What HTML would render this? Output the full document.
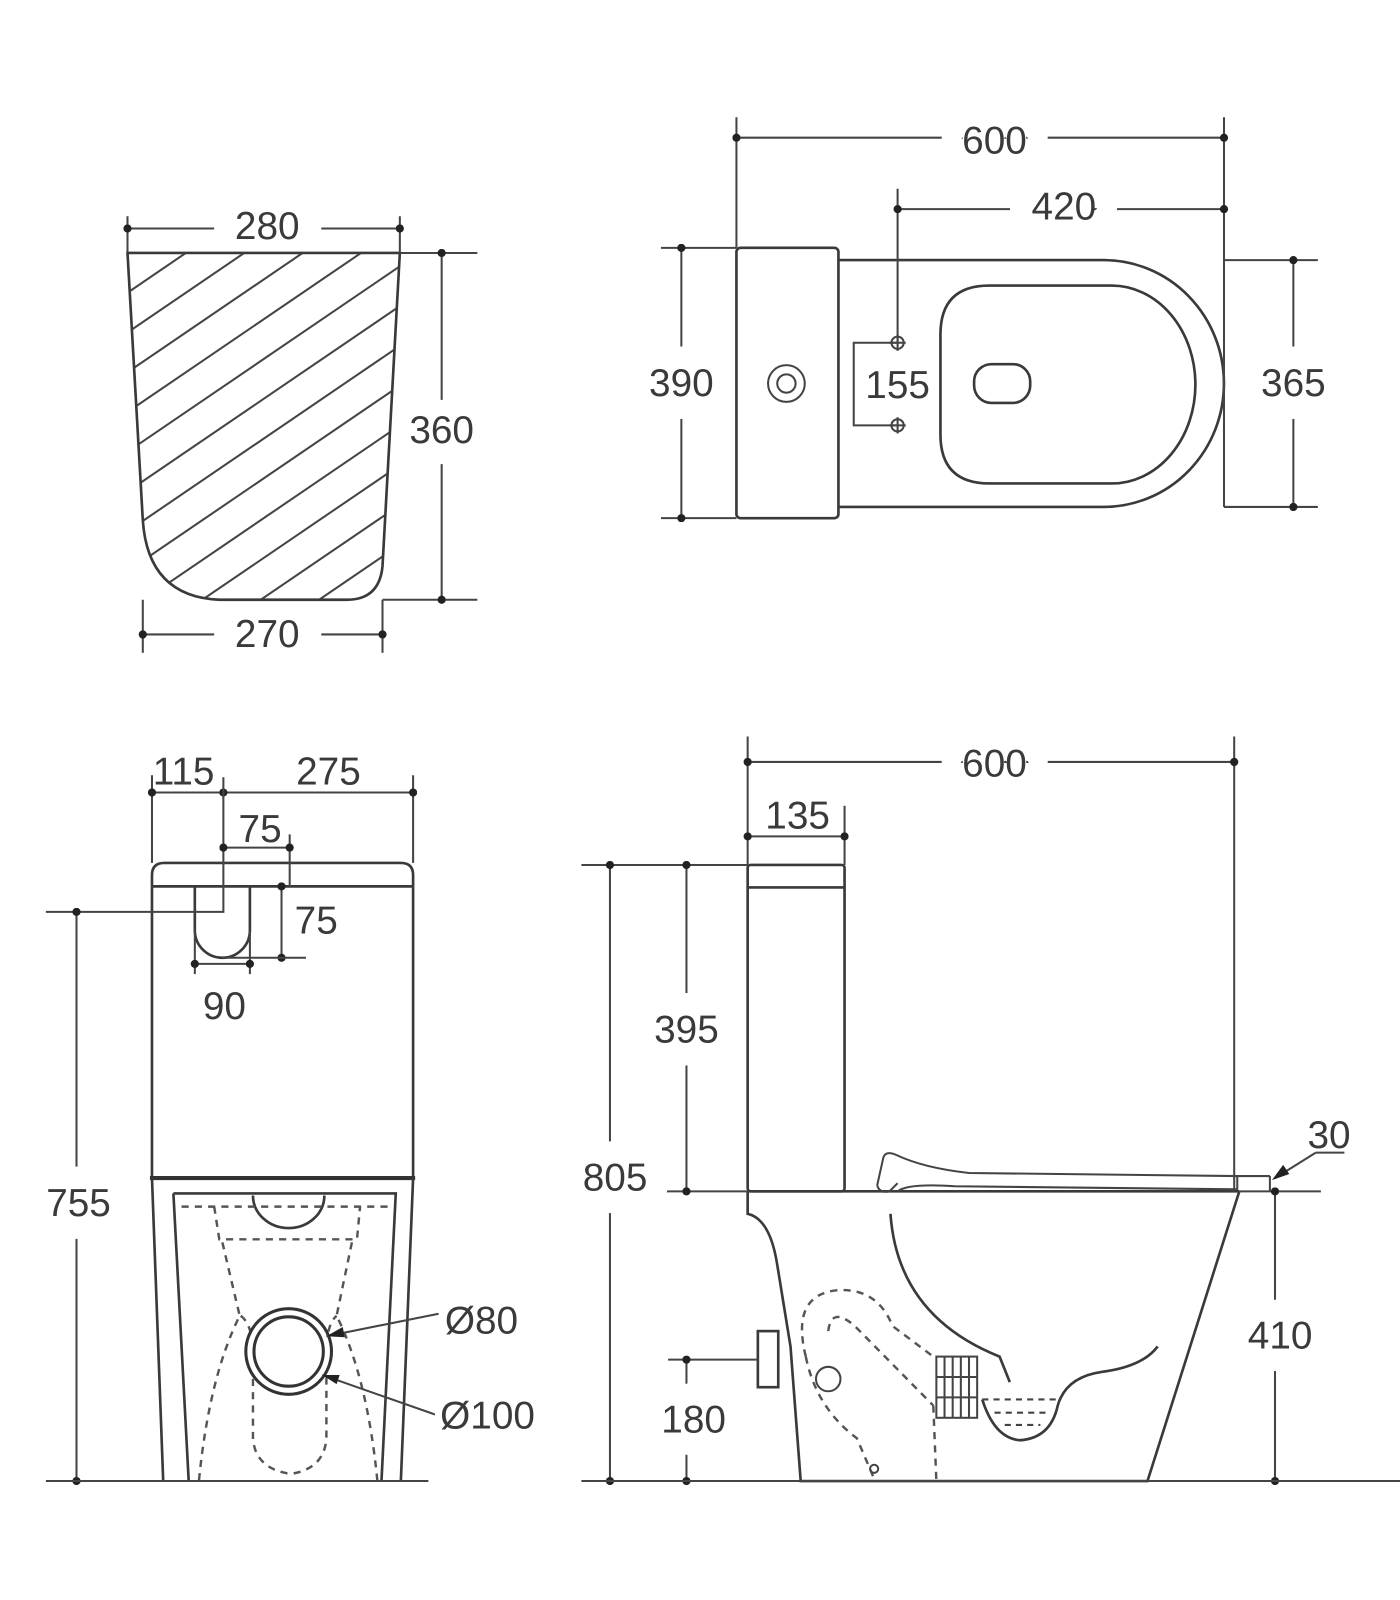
<!DOCTYPE html>
<html><head><meta charset="utf-8"><style>
html,body{margin:0;padding:0;background:#fff;}
svg{display:block}
text{font-family:"Liberation Sans",sans-serif;font-size:38px;fill:#3a3a3a;text-anchor:middle;dominant-baseline:central;paint-order:stroke;stroke:#fff;stroke-width:14px;stroke-linejoin:round}
text.w{stroke-width:44px}
text.n{stroke-width:0}
.l{stroke:#444;stroke-width:2;fill:none}
.t{stroke:#3a3a3a;stroke-width:2.6;fill:none}
.d{stroke:#555;stroke-width:2.4;fill:none;stroke-dasharray:7 6}
</style></head><body>
<svg width="1400" height="1600" viewBox="0 0 1400 1600" xmlns="http://www.w3.org/2000/svg">
<defs>
<clipPath id="c1"><path d="M125,248 L392,248 L375,555 Q372,588 340,588 L215,588 Q145,585 140,510 Z"/></clipPath>
<marker id="dt" viewBox="0 0 10 10" refX="5" refY="5" markerWidth="4" markerHeight="4"><circle cx="5" cy="5" r="5" fill="#222"/></marker>
</defs>
<rect width="1400" height="1600" fill="#fff"/>
<g transform="scale(1.02)">
<!-- TOP LEFT -->
<g clip-path="url(#c1)" class="l">
<line x1="100" y1="304" x2="420" y2="86"/><line x1="100" y1="343" x2="420" y2="125"/>
<line x1="100" y1="382" x2="420" y2="164"/><line x1="100" y1="421" x2="420" y2="203"/>
<line x1="100" y1="460" x2="420" y2="242"/><line x1="100" y1="499" x2="420" y2="281"/>
<line x1="100" y1="538" x2="420" y2="320"/><line x1="100" y1="577" x2="420" y2="359"/>
<line x1="100" y1="616" x2="420" y2="398"/><line x1="100" y1="655" x2="420" y2="437"/>
<line x1="100" y1="694" x2="420" y2="476"/><line x1="100" y1="733" x2="420" y2="515"/>
<line x1="100" y1="772" x2="420" y2="554"/><line x1="100" y1="811" x2="420" y2="593"/>
</g>
<path class="t" d="M125,248 L392,248 L375,555 Q372,588 340,588 L215,588 Q145,585 140,510 Z"/>
<g class="l">
<line x1="125" y1="212" x2="125" y2="248"/><line x1="392" y1="212" x2="392" y2="248"/>
<line x1="125" y1="224" x2="210" y2="224" marker-start="url(#dt)"/>
<line x1="315" y1="224" x2="392" y2="224" marker-end="url(#dt)"/>
<line x1="392" y1="248" x2="468" y2="248"/><line x1="375" y1="588" x2="468" y2="588"/>
<line x1="433" y1="248" x2="433" y2="392" marker-start="url(#dt)"/>
<line x1="433" y1="455" x2="433" y2="588" marker-end="url(#dt)"/>
<line x1="140" y1="588" x2="140" y2="640"/><line x1="375" y1="588" x2="375" y2="640"/>
<line x1="140" y1="622" x2="210" y2="622" marker-start="url(#dt)"/>
<line x1="315" y1="622" x2="375" y2="622" marker-end="url(#dt)"/>
</g>
<text class="n" x="262" y="222">280</text><text class="n" x="433" y="422">360</text><text class="n" x="262" y="622">270</text>

<!-- TOP RIGHT -->
<rect class="t" x="722" y="243" width="100" height="265" rx="4"/>
<path class="t" d="M822,255 L1082,255 A118,121 0 0 1 1082,497 L822,497"/>
<path class="t" d="M970,280 L1090,280 A82,97 0 0 1 1090,474 L970,474 Q922,474 922,426 L922,328 Q922,280 970,280 Z"/>
<rect class="t" x="955" y="357" width="55" height="38" rx="17"/>
<circle class="l" cx="771" cy="376" r="18"/><circle class="l" cx="771" cy="376" r="9"/>
<g class="l">
<line x1="722" y1="115" x2="722" y2="243"/><line x1="1200" y1="115" x2="1200" y2="497"/>
<line x1="722" y1="135" x2="1200" y2="135" marker-start="url(#dt)" marker-end="url(#dt)"/>
<line x1="880" y1="185" x2="880" y2="336"/>
<line x1="880" y1="205" x2="1200" y2="205" marker-start="url(#dt)" marker-end="url(#dt)"/>
<line x1="648" y1="243" x2="722" y2="243"/><line x1="648" y1="508" x2="722" y2="508"/>
<line x1="668" y1="243" x2="668" y2="508" marker-start="url(#dt)" marker-end="url(#dt)"/>
<line x1="1200" y1="255" x2="1292" y2="255"/><line x1="1200" y1="497" x2="1292" y2="497"/>
<line x1="1268" y1="255" x2="1268" y2="497" marker-start="url(#dt)" marker-end="url(#dt)"/>
<path d="M880,336 L837,336 L837,417 L880,417"/>
<circle cx="880" cy="336" r="6"/><circle cx="880" cy="417" r="6"/>
<line x1="872" y1="336" x2="888" y2="336"/><line x1="880" y1="328" x2="880" y2="344"/>
<line x1="872" y1="417" x2="888" y2="417"/><line x1="880" y1="409" x2="880" y2="425"/>
</g>
<text class="w" x="975" y="138">600</text><text class="w" x="1043" y="203">420</text><text class="w" x="668" y="376">390</text>
<text class="w" x="1268" y="376">365</text><text x="880" y="378" style="stroke-width:6px">155</text>

<!-- BOTTOM LEFT -->
<path class="t" d="M149,869 L149,858 Q149,846 161,846 L393,846 Q405,846 405,858 L405,869"/>
<line class="t" x1="149" y1="869" x2="405" y2="869"/>
<line class="t" x1="149" y1="869" x2="149" y2="1155"/><line class="t" x1="405" y1="869" x2="405" y2="1155"/>
<line x1="147" y1="1155" x2="407" y2="1155" stroke="#333" stroke-width="4"/>
<path class="t" d="M149,1155 L160,1452 M405,1155 L393,1452"/>
<path class="t" d="M170,1170 L388,1170 L374,1452 M170,1170 L185,1452"/>
<path class="t" d="M248,1172 A35,32 0 0 0 318,1172"/>
<path class="t" d="M191,869 L191,912 A27,27 0 0 0 245,912 L245,869"/>
<path class="d" d="M178,1183 L385,1183 M210,1183 L215,1215 L350,1215 L353,1183"/>
<path class="d" d="M218,1218 L235,1290 Q205,1350 195,1452 M345,1218 L330,1290 Q360,1350 370,1452"/>
<path class="d" d="M236,1290 Q250,1300 248,1340 L248,1410 Q250,1440 285,1445 Q318,1440 320,1410 L320,1340 Q318,1300 330,1290"/>
<circle cx="283" cy="1325" r="42" fill="#fff" stroke="#333" stroke-width="3"/>
<circle cx="283" cy="1325" r="34" fill="none" stroke="#333" stroke-width="3"/>
<g class="l">
<line x1="149" y1="760" x2="149" y2="846"/><line x1="405" y1="760" x2="405" y2="846"/>
<line x1="149" y1="777" x2="405" y2="777" marker-start="url(#dt)" marker-end="url(#dt)"/>
<line x1="219" y1="777" x2="219" y2="777" marker-start="url(#dt)"/>
<path d="M219,762 L219,894 L45,894"/>
<line x1="284" y1="818" x2="284" y2="869"/>
<line x1="219" y1="831" x2="284" y2="831" marker-start="url(#dt)" marker-end="url(#dt)"/>
<line x1="276" y1="869" x2="276" y2="939" marker-start="url(#dt)" marker-end="url(#dt)"/>
<line x1="218" y1="939" x2="300" y2="939"/>
<line x1="191" y1="912" x2="191" y2="955"/><line x1="245" y1="912" x2="245" y2="955"/>
<line x1="191" y1="945" x2="245" y2="945" marker-start="url(#dt)" marker-end="url(#dt)"/>
<line x1="75" y1="894" x2="75" y2="1452" marker-start="url(#dt)" marker-end="url(#dt)"/>
<line x1="45" y1="1452" x2="420" y2="1452"/>
<line x1="320" y1="1310" x2="430" y2="1288"/><line x1="316" y1="1348" x2="430" y2="1388"/>
</g>
<path d="M320,1310 L336,1301 L338,1311 Z M316,1348 L333,1348 L330,1357 Z" fill="#222"/>
<text x="180" y="757" style="stroke-width:4px">115</text><text x="322" y="757" style="stroke-width:4px">275</text>
<text x="255" y="813" style="stroke-width:4px">75</text><text x="310" y="903">75</text>
<text x="220" y="987">90</text><text class="w" x="77" y="1180">755</text>
<text x="472" y="1295">Ø80</text><text x="478" y="1388">Ø100</text>

<!-- BOTTOM RIGHT -->
<rect class="t" x="733" y="848" width="95" height="320" rx="3"/>
<line class="t" x1="733" y1="870" x2="828" y2="870"/>
<line class="t" x1="733" y1="1168" x2="1215" y2="1168"/>
<path class="t" d="M733,1168 L733,1190 Q755,1195 762,1240 L775,1320 L785,1452 L1125,1452 L1215,1168"/>
<path class="l" d="M860,1162 L866,1135 Q868,1128 878,1132 Q905,1145 950,1150 L1213,1153 L1213,1166 L936,1163 Q890,1160 880,1168"/>
<path class="l" d="M860,1162 Q862,1170 872,1168 L880,1160"/>
<line class="l" x1="1213" y1="1153" x2="1245" y2="1153"/><line class="l" x1="1245" y1="1153" x2="1245" y2="1168"/>
<path class="t" d="M873,1190 Q880,1290 980,1330 L990,1355"/>
<path class="t" d="M963,1372 Q975,1410 1000,1412 Q1030,1410 1037,1378 Q1045,1350 1080,1345 Q1120,1340 1135,1320"/>
<path class="l" d="M963,1372 L1037,1372 M975,1385 L1030,1385 M985,1397 L1020,1397" stroke-dasharray="6 5"/>
<rect x="918" y="1330" width="40" height="60" fill="none" stroke="#444" stroke-width="2"/>
<path class="l" d="M926,1330 V1390 M934,1330 V1390 M942,1330 V1390 M950,1330 V1390 M918,1350 H958 M918,1370 H958"/>
<rect class="t" x="743" y="1305" width="20" height="55"/>
<path class="d" d="M790,1330 Q775,1270 820,1265 Q860,1262 875,1300 L915,1330"/>
<path class="d" d="M812,1305 Q815,1280 838,1300 L915,1378"/>
<path class="d" d="M790,1330 Q800,1380 840,1410 L858,1452"/>
<path class="d" d="M915,1378 L918,1452"/>
<circle class="l" cx="812" cy="1352" r="12"/><circle class="l" cx="857" cy="1440" r="4"/>
<g class="l">
<line x1="733" y1="722" x2="733" y2="848"/><line x1="1210" y1="722" x2="1210" y2="1168"/>
<line x1="733" y1="747" x2="1210" y2="747" marker-start="url(#dt)" marker-end="url(#dt)"/>
<line x1="828" y1="790" x2="828" y2="848"/>
<line x1="733" y1="820" x2="828" y2="820" marker-start="url(#dt)" marker-end="url(#dt)"/>
<line x1="570" y1="848" x2="733" y2="848"/>
<line x1="645" y1="1168" x2="733" y2="1168"/><line x1="1215" y1="1168" x2="1295" y2="1168"/>
<line x1="673" y1="848" x2="673" y2="1168" marker-start="url(#dt)" marker-end="url(#dt)"/>
<line x1="598" y1="848" x2="598" y2="1452" marker-start="url(#dt)" marker-end="url(#dt)"/>
<line x1="1250" y1="1168" x2="1250" y2="1452" marker-start="url(#dt)" marker-end="url(#dt)"/>
<line x1="655" y1="1333" x2="743" y2="1333"/>
<line x1="673" y1="1333" x2="673" y2="1452" marker-start="url(#dt)" marker-end="url(#dt)"/>
<line x1="570" y1="1452" x2="1380" y2="1452"/>
<line x1="1250" y1="1155" x2="1290" y2="1130"/><line x1="1290" y1="1130" x2="1318" y2="1130"/>
</g>
<path d="M1247,1157 L1258,1142 L1264,1151 Z" fill="#222"/>
<text class="w" x="975" y="749">600</text><text x="782" y="800" style="stroke-width:4px">135</text>
<text class="w" x="673" y="1010">395</text><text class="w" x="603" y="1155">805</text>
<text class="w" x="1255" y="1310">410</text><text class="w" x="680" y="1392">180</text>
<text x="1303" y="1113" style="stroke-width:4px">30</text>
</g>
</svg>
</body></html>
